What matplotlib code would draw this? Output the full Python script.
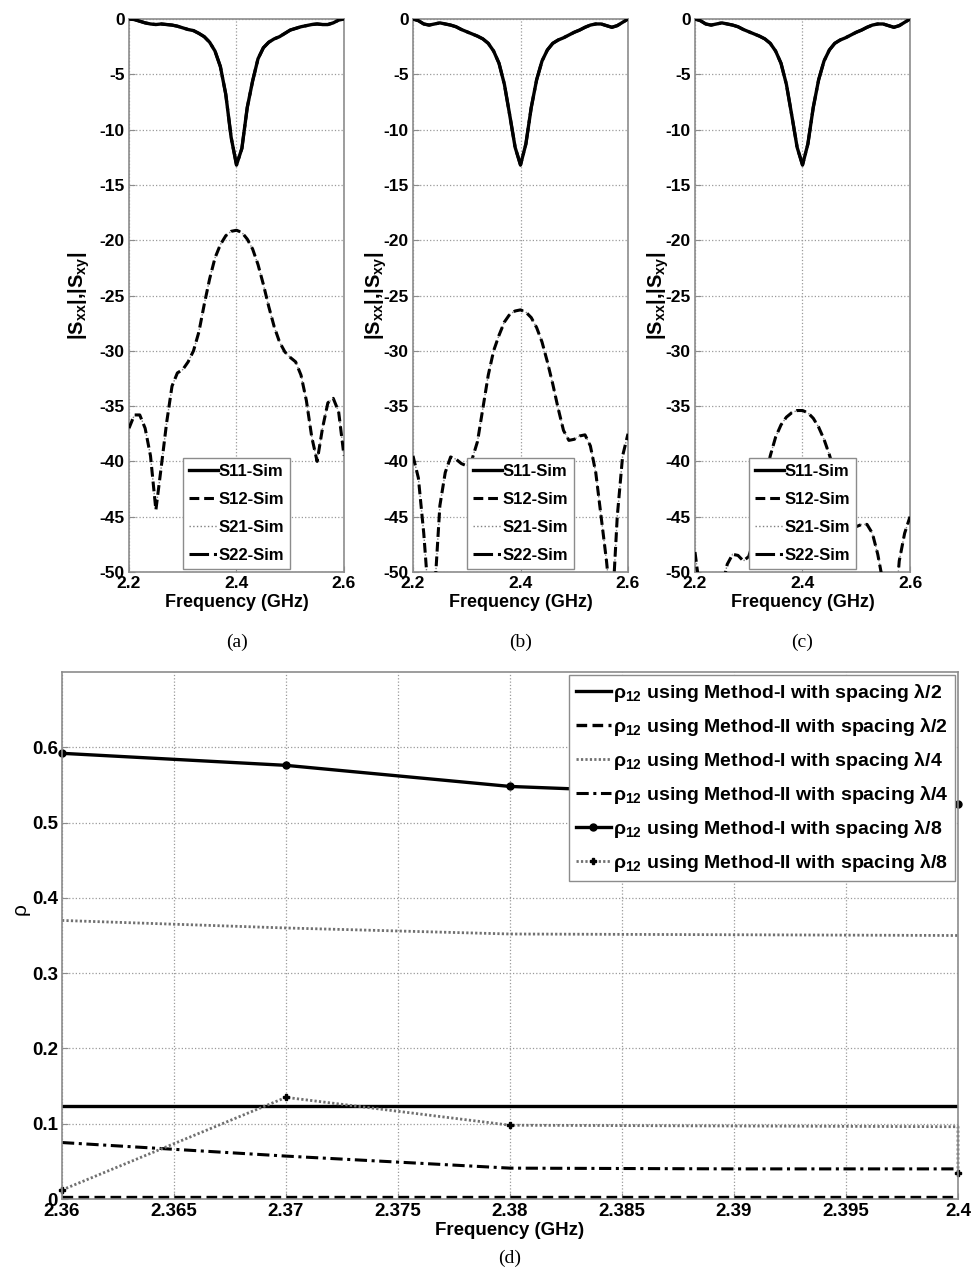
import numpy as np
import matplotlib
matplotlib.use('Agg')
import matplotlib.pyplot as plt
from matplotlib.ticker import FormatStrFormatter

plt.rcParams['font.family'] = ['Liberation Sans', 'DejaVu Sans']
plt.rcParams['font.weight'] = 'bold'
plt.rcParams['axes.labelweight'] = 'bold'
plt.rcParams['axes.unicode_minus'] = False
plt.rcParams['mathtext.fontset'] = 'custom'
plt.rcParams['mathtext.rm'] = 'Liberation Sans:bold'
plt.rcParams['mathtext.bf'] = 'Liberation Sans:bold'
plt.rcParams['mathtext.it'] = 'Liberation Sans:bold'

# ---- data: S-parameters (dB) vs frequency (GHz), panels a-c ----
freq = np.round(np.arange(2.20, 2.6001, 0.01), 2)

s11_a = [0.0, -0.05, -0.2, -0.35, -0.45, -0.5, -0.45, -0.5, -0.55, -0.65,
         -0.8, -0.95, -1.05, -1.3, -1.6, -2.1, -2.9, -4.3, -6.8, -10.7,
         -13.2, -11.7, -8.0, -5.6, -3.6, -2.6, -2.1, -1.8, -1.6, -1.3,
         -1.0, -0.85, -0.7, -0.6, -0.5, -0.45, -0.5, -0.5, -0.35, -0.1, 0.0]

s11_bc = [0.0, -0.15, -0.45, -0.55, -0.45, -0.35, -0.45, -0.55, -0.7, -0.95,
          -1.15, -1.35, -1.55, -1.8, -2.2, -2.9, -4.0, -5.9, -8.7, -11.6,
          -13.2, -11.3, -8.0, -5.5, -3.8, -2.8, -2.2, -1.9, -1.7, -1.45,
          -1.2, -1.0, -0.75, -0.55, -0.45, -0.45, -0.6, -0.75, -0.6, -0.3, 0.0]

s12_a = [-37.0, -35.8, -35.8, -37.0, -39.5, -44.4, -40.5, -36.5, -33.2, -32.0,
         -31.7, -31.0, -30.0, -28.3, -25.8, -23.5, -21.6, -20.4, -19.6, -19.2,
         -19.1, -19.3, -19.9, -20.8, -22.2, -24.0, -26.0, -27.8, -29.2, -30.1,
         -30.6, -31.0, -32.2, -34.5, -37.8, -40.0, -37.0, -34.7, -34.3, -35.5, -39.5]

s12_b = [-39.5, -41.5, -46.5, -53.0, -52.0, -44.0, -41.0, -39.6, -39.8, -40.2,
         -40.4, -39.8, -38.2, -35.2, -32.2, -30.0, -28.6, -27.4, -26.7, -26.4,
         -26.3, -26.5, -27.0, -27.9, -29.2, -31.0, -33.0, -35.2, -37.2, -38.1,
         -38.0, -37.7, -37.6, -38.6, -41.0, -45.0, -49.0, -54.0, -45.0, -39.5, -37.5]

s12_c = [-48.2, -52.0, -58.0, -60.0, -56.0, -51.5, -49.3, -48.4, -48.5, -49.0,
         -48.6, -47.0, -44.5, -41.8, -39.5, -37.8, -36.7, -36.0, -35.6, -35.4,
         -35.4, -35.6, -36.1, -36.9, -38.0, -39.4, -41.0, -42.6, -44.0, -45.2,
         -45.9, -45.7, -45.7, -46.5, -48.4, -51.0, -56.0, -55.0, -49.0, -46.5, -45.0]

# reciprocal / symmetric structure: S21 = S12, S22 = S11
panels = [('(a)', s11_a, s12_a), ('(b)', s11_bc, s12_b), ('(c)', s11_bc, s12_c)]
s_labels = ['S11-Sim', 'S12-Sim', 'S21-Sim', 'S22-Sim']

# ---- data: correlation coefficient rho vs frequency, panel d ----
f_d = [2.36, 2.37, 2.38, 2.39, 2.40]
rho_m1_l2 = [0.124, 0.124, 0.124, 0.124, 0.124]
rho_m2_l2 = [0.003, 0.003, 0.003, 0.003, 0.003]
rho_m1_l4 = [0.370, 0.360, 0.352, 0.351, 0.350]
rho_m2_l4 = [0.075, 0.057, 0.041, 0.040, 0.040]
f_m1_l8 = [2.36, 2.37, 2.38, 2.40]
rho_m1_l8 = [0.592, 0.576, 0.548, 0.525]
f_m2_l8 = [2.36, 2.37, 2.38, 2.40, 2.40]
rho_m2_l8 = [0.012, 0.135, 0.098, 0.096, 0.034]

rho_labels = [r'ρ$_{\mathbf{12}}$ using Method-I with spacing λ/2',
              r'ρ$_{\mathbf{12}}$ using Method-II with spacing λ/2',
              r'ρ$_{\mathbf{12}}$ using Method-I with spacing λ/4',
              r'ρ$_{\mathbf{12}}$ using Method-II with spacing λ/4',
              r'ρ$_{\mathbf{12}}$ using Method-I with spacing λ/8',
              r'ρ$_{\mathbf{12}}$ using Method-II with spacing λ/8']

SPINE = '#8c8c8c'
GRID = dict(color='#9a9a9a', linestyle=':', linewidth=0.9)
CAP = dict(family='Liberation Serif', weight='normal', fontsize=14, ha='center', va='center')


def style_axes(ax, fs):
    for sp in ax.spines.values():
        sp.set_color(SPINE)
        sp.set_linewidth(1.2)
    ax.tick_params(direction='in', length=4, color=SPINE, labelsize=fs, pad=3)
    ax.grid(True, **GRID)


fig = plt.figure(figsize=(9.72, 12.77), dpi=100)

lefts = [129, 413, 695]
for (cap, s11, s12), lx in zip(panels, lefts):
    ax = fig.add_axes([lx / 972, (1277 - 572) / 1277, 215 / 972, 553 / 1277])
    ax.plot(freq, s12, color='#808080', linestyle=':', linewidth=1.0, label=s_labels[2], zorder=2)
    ax.plot(freq, s11, color='black', linestyle='-.', linewidth=2.2, label=s_labels[3], zorder=2)
    ax.plot(freq, s11, color='black', linestyle='-', linewidth=2.4, label=s_labels[0], zorder=3)
    ax.plot(freq, s12, color='black', linestyle=(0, (3.2, 1.6)), linewidth=2.2, label=s_labels[1], zorder=3)
    h, lab = ax.get_legend_handles_labels()
    order = [2, 3, 0, 1]
    leg = ax.legend([h[i] for i in order], [lab[i] for i in order], loc='lower center',
                    bbox_to_anchor=(0.5, 0.0), borderaxespad=0.2, fontsize=12,
                    handlelength=1.75, handletextpad=0.05, labelspacing=0.78,
                    borderpad=0.35, fancybox=False, framealpha=1, edgecolor=SPINE)
    leg.get_frame().set_linewidth(1.0)
    leg.set_zorder(5)
    ax.set_xlim(2.2, 2.6)
    ax.set_ylim(-50, 0)
    ax.set_xticks([2.2, 2.4, 2.6])
    ax.set_yticks(np.arange(-50, 1, 5))
    ax.xaxis.set_major_formatter(FormatStrFormatter('%g'))
    style_axes(ax, 12.5)
    ax.set_xlabel('Frequency (GHz)', fontsize=13, labelpad=2)
    ax.set_ylabel(r'|S$_{\mathbf{xx}}$|,|S$_{\mathbf{xy}}$|', fontsize=14.5)
    ax.yaxis.set_label_coords(-0.17 if cap == '(a)' else -0.11, 0.5)
    fig.text((lx + 107.5) / 972, 1 - 642 / 1277, cap, **CAP)

# ---- panel d ----
ax = fig.add_axes([62 / 972, (1277 - 1199) / 1277, 896 / 972, 527 / 1277])
ax.plot(f_d, rho_m1_l2, color='black', linestyle='-', linewidth=2.4, label=rho_labels[0])
ax.plot(f_d, rho_m2_l2, color='black', linestyle=(0, (3.2, 1.6)), linewidth=2.4, label=rho_labels[1])
ax.plot(f_d, rho_m1_l4, color='#707070', linestyle=(0, (0.8, 0.8)), linewidth=2.0, label=rho_labels[2])
ax.plot(f_d, rho_m2_l4, color='black', linestyle=(0, (4, 1.5, 1, 1.5)), linewidth=2.2, label=rho_labels[3])
ax.plot(f_m1_l8, rho_m1_l8, color='black', linestyle='-', linewidth=2.4, marker='o', markersize=5,
        clip_on=False, label=rho_labels[4])
ax.plot(f_m2_l8, rho_m2_l8, color='#707070', linestyle=(0, (0.8, 0.8)), linewidth=2.0, marker='P',
        markersize=5, markerfacecolor='black', markeredgecolor='black', markevery=[0, 1, 2, 4],
        clip_on=False, label=rho_labels[5])
leg = ax.legend(loc='upper right', borderaxespad=0.15, fontsize=14, handlelength=1.8,
                handletextpad=0.1, labelspacing=0.62, borderpad=0.35, fancybox=False,
                framealpha=1, edgecolor=SPINE)
leg.get_frame().set_linewidth(1.0)
leg.set_zorder(5)
ax.set_xlim(2.36, 2.40)
ax.set_ylim(0, 0.7)
ax.set_xticks(np.round(np.arange(2.36, 2.4001, 0.005), 3))
ax.set_yticks(np.round(np.arange(0, 0.61, 0.1), 1))
ax.xaxis.set_major_formatter(FormatStrFormatter('%g'))
ax.yaxis.set_major_formatter(FormatStrFormatter('%g'))
style_axes(ax, 13.5)
ax.set_xlabel('Frequency (GHz)', fontsize=13.5, labelpad=1)
ax.set_ylabel('ρ', fontsize=15, weight='normal')
ax.yaxis.set_label_coords(-0.036, 0.55)
fig.text(510 / 972, 1 - 1258 / 1277, '(d)', **CAP)

fig.savefig('out.png', dpi=100)
